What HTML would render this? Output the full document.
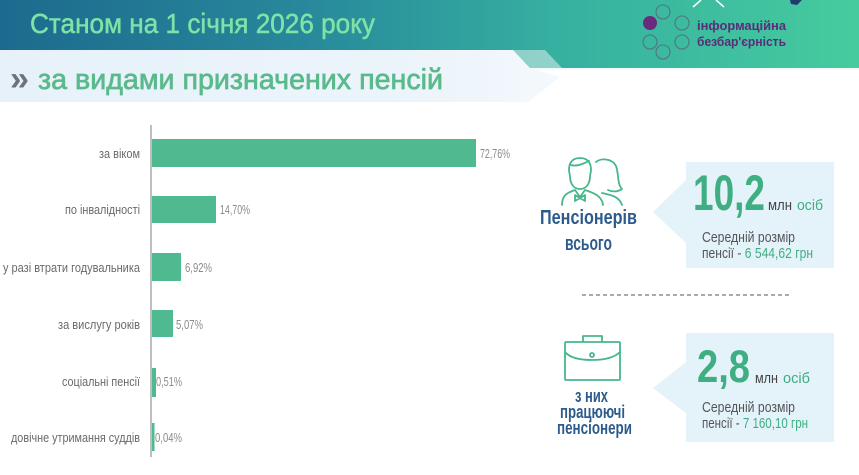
<!DOCTYPE html>
<html><head><meta charset="utf-8">
<style>
html,body{margin:0;padding:0;background:#fff;}
svg{display:block;}
text{font-family:"Liberation Sans","DejaVu Sans",sans-serif;}
</style></head>
<body>
<svg width="859" height="475" viewBox="0 0 859 475" xmlns="http://www.w3.org/2000/svg">
<defs>
<linearGradient id="hg" x1="0" y1="0" x2="1" y2="0">
<stop offset="0" stop-color="#1d6a8e"/>
<stop offset="0.35" stop-color="#27889b"/>
<stop offset="0.65" stop-color="#36b0a0"/>
<stop offset="1" stop-color="#46cb9e"/>
</linearGradient>
<linearGradient id="lb" x1="0" y1="0" x2="1" y2="0">
<stop offset="0" stop-color="#e6f1fa"/>
<stop offset="0.8" stop-color="#edf5fb"/>
<stop offset="1" stop-color="#f4f9fc"/>
</linearGradient>
</defs>
<rect x="0" y="0" width="859" height="475" fill="#fff"/>
<!-- header -->
<rect x="0" y="0" width="859" height="68" fill="url(#hg)"/>
<rect x="0" y="68" width="859" height="2" fill="#f4f9fb"/>
<polygon points="0,50 513,50 530,68 560,77 528,102 0,102" fill="url(#lb)"/>
<polygon points="513,50 545,50 562,68 530,68" fill="#ffffff" fill-opacity="0.45"/>
<text x="30" y="33" font-size="28" fill="#7fe2a6" stroke="#7fe2a6" stroke-width="0.5" textLength="345" lengthAdjust="spacingAndGlyphs">Станом на 1 січня 2026 року</text>
<text x="10" y="90" font-size="34" font-weight="bold" fill="#6e737a" textLength="19" lengthAdjust="spacingAndGlyphs">»</text>
<text x="38" y="89" font-size="29" fill="#5bb98c" stroke="#5bb98c" stroke-width="0.7" textLength="405" lengthAdjust="spacingAndGlyphs">за видами призначених пенсій</text>
<!-- top decoration -->
<line x1="693" y1="7" x2="701" y2="0" stroke="#ffffff" stroke-width="1.5"/>
<line x1="716" y1="0" x2="724" y2="7" stroke="#ffffff" stroke-width="1.5"/>
<polygon points="790,0 802,0 797,5 791,4" fill="#1f3b6e"/>
<!-- logo -->
<circle cx="650" cy="23" r="7" fill="#6b2a7c"/>
<g fill="none" stroke="#556e7e" stroke-width="1.1" stroke-opacity="0.9">
<circle cx="663" cy="12" r="7"/>
<circle cx="682" cy="23" r="7"/>
<circle cx="650" cy="42" r="7"/>
<circle cx="663" cy="52" r="7"/>
<circle cx="682" cy="42" r="7"/>
</g>
<text x="697" y="30" font-size="13" font-weight="bold" fill="#5a2c7a" textLength="89" lengthAdjust="spacingAndGlyphs">інформаційна</text>
<text x="697" y="46" font-size="13" font-weight="bold" fill="#5a2c7a" textLength="89" lengthAdjust="spacingAndGlyphs">безбар'єрність</text>
<!-- chart -->
<line x1="151" y1="125" x2="151" y2="457" stroke="#9a9a9a" stroke-width="1.3"/>
<g fill="#4fb98f">
<rect x="152" y="139" width="324" height="28"/>
<rect x="152" y="196" width="64" height="27"/>
<rect x="152" y="253" width="29" height="28"/>
<rect x="152" y="310" width="21" height="27"/>
<rect x="152" y="368" width="4" height="29"/>
<rect x="152" y="423" width="2.5" height="28"/>
</g>
<g font-size="13" fill="#6a6a6a" text-anchor="end">
<text x="140" y="158" textLength="41" lengthAdjust="spacingAndGlyphs">за віком</text>
<text x="140" y="214" textLength="75" lengthAdjust="spacingAndGlyphs">по інвалідності</text>
<text x="140" y="272" textLength="137" lengthAdjust="spacingAndGlyphs">у разі втрати годувальника</text>
<text x="140" y="329" textLength="82" lengthAdjust="spacingAndGlyphs">за вислугу років</text>
<text x="140" y="386" textLength="78" lengthAdjust="spacingAndGlyphs">соціальні пенсії</text>
<text x="140" y="442" textLength="129" lengthAdjust="spacingAndGlyphs">довічне утримання суддів</text>
</g>
<g font-size="12.5" fill="#8a8a8a">
<text x="480" y="158" textLength="30" lengthAdjust="spacingAndGlyphs">72,76%</text>
<text x="220" y="214" textLength="30" lengthAdjust="spacingAndGlyphs">14,70%</text>
<text x="185" y="272" textLength="27" lengthAdjust="spacingAndGlyphs">6,92%</text>
<text x="176" y="329" textLength="27" lengthAdjust="spacingAndGlyphs">5,07%</text>
<text x="156" y="386" textLength="26" lengthAdjust="spacingAndGlyphs">0,51%</text>
<text x="155" y="442" textLength="27" lengthAdjust="spacingAndGlyphs">0,04%</text>
</g>
<!-- people icon -->
<g fill="none" stroke="#46b78a" stroke-width="1.8" stroke-linecap="round" stroke-linejoin="round">
<path d="M570,176 C567,165 571,158 580,158 C589,158 593,165 590,176 C590,184 586,189 580,189 C574,189 570,184 570,176 Z"/>
<path d="M571,165 C577,167 585,163 589,161"/>
<path d="M562,205 C562,196 566,193 575,190 L580,197 L585,190 C594,193 602,196 603,205"/>
<path d="M575,195 L580,198 L575,201 Z M585,195 L580,198 L585,201 Z"/>
<path d="M596,162 C600,158 612,158 616,166 C619,174 617,184 622,189 C618,192 612,192 608,190"/>
<path d="M602,193 C610,195 619,196 622,205"/>
</g>
<text x="540" y="224" font-size="20" font-weight="bold" fill="#2d5c8c" textLength="97" lengthAdjust="spacingAndGlyphs">Пенсіонерів</text>
<text x="565" y="250" font-size="20" font-weight="bold" fill="#2d5c8c" textLength="47" lengthAdjust="spacingAndGlyphs">всього</text>
<!-- box 1 -->
<polygon points="686,162 834,162 834,268 686,268 686,243 653,212 686,180" fill="#e4f2fa"/>
<text x="693" y="210" font-size="50" font-weight="bold" fill="#3fae82" textLength="72" lengthAdjust="spacingAndGlyphs">10,2</text>
<text x="768" y="210" font-size="15" fill="#444" textLength="24" lengthAdjust="spacingAndGlyphs">млн</text>
<text x="797" y="210" font-size="15" fill="#3fae82" textLength="26" lengthAdjust="spacingAndGlyphs">осіб</text>
<text x="702" y="242" font-size="15" fill="#555" textLength="93" lengthAdjust="spacingAndGlyphs">Середній розмір</text>
<text x="702" y="258" font-size="15" fill="#555" textLength="111" lengthAdjust="spacingAndGlyphs">пенсії - <tspan fill="#3fae82">6 544,62 грн</tspan></text>
<!-- dashed -->
<line x1="582" y1="295" x2="790" y2="295" stroke="#777" stroke-width="1.3" stroke-dasharray="4,3"/>
<!-- briefcase -->
<g fill="none" stroke="#46b78a" stroke-width="1.8" stroke-linejoin="round">
<rect x="565" y="342" width="55" height="38" rx="1"/>
<path d="M583,342 L583,336 L602,336 L602,342"/>
<path d="M565,352 C570,358 580,360 592,360 C604,360 614,358 620,352"/>
<circle cx="592" cy="355" r="2"/>
</g>
<g font-size="18" font-weight="bold" fill="#2d5c8c">
<text x="575" y="402" textLength="33" lengthAdjust="spacingAndGlyphs">з них</text>
<text x="560" y="418" textLength="65" lengthAdjust="spacingAndGlyphs">працюючі</text>
<text x="557" y="434" textLength="75" lengthAdjust="spacingAndGlyphs">пенсіонери</text>
</g>
<!-- box 2 -->
<polygon points="686,333 834,333 834,442 686,442 686,413 653,388 686,362" fill="#e4f2fa"/>
<text x="697" y="382" font-size="45" font-weight="bold" fill="#3fae82" textLength="53" lengthAdjust="spacingAndGlyphs">2,8</text>
<text x="755" y="383" font-size="15" fill="#444" textLength="23" lengthAdjust="spacingAndGlyphs">млн</text>
<text x="783" y="383" font-size="15" fill="#3fae82" textLength="27" lengthAdjust="spacingAndGlyphs">осіб</text>
<text x="702" y="412" font-size="15" fill="#555" textLength="93" lengthAdjust="spacingAndGlyphs">Середній розмір</text>
<text x="702" y="428" font-size="15" fill="#555" textLength="106" lengthAdjust="spacingAndGlyphs">пенсії - <tspan fill="#3fae82">7 160,10 грн</tspan></text>
</svg>
</body></html>
